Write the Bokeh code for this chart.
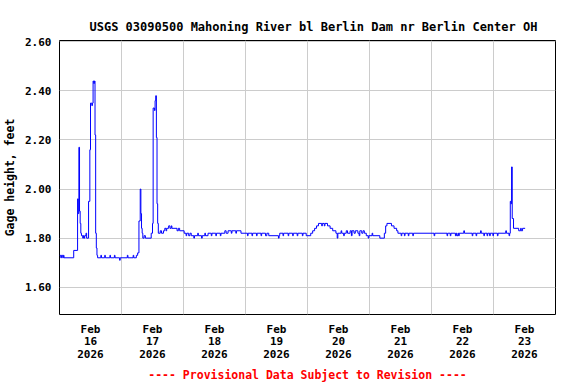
from bokeh.plotting import figure
from bokeh.models import Range1d, FixedTicker, NumeralTickFormatter
from bokeh.embed import file_html
from bokeh.resources import INLINE

# Hours since 2026-02-16 00:00 (local) and gage height (ft), step-after breakpoints
hours = [
    0.00, 0.50, 0.75, 1.25, 1.50, 1.75, 5.50, 7.00, 7.25, 7.50, 7.75, 8.00, 8.25, 8.50,
    9.00, 9.25, 9.50, 9.75, 10.25, 10.50, 11.25, 11.75, 12.00, 12.50, 12.75, 13.00, 13.25,
    13.50, 13.75, 14.00, 14.25, 14.50, 14.75, 16.00, 16.25, 17.50, 17.75, 19.50, 19.75,
    21.25, 21.50, 23.25, 23.50, 26.25, 26.50, 28.50, 28.75, 29.75, 30.25, 30.75, 31.25,
    31.50, 31.75, 32.00, 32.25, 32.75, 33.25, 35.50, 36.00, 36.25, 36.75, 37.00, 37.25,
    37.50, 37.75, 38.00, 38.25, 39.00, 39.50, 40.25, 40.75, 41.25, 41.50, 42.25, 42.75,
    43.25, 43.50, 45.50, 46.00, 46.50, 48.25, 49.00, 49.25, 50.00, 50.50, 51.00, 52.00,
    52.25, 53.50, 53.75, 55.00, 55.25, 56.25, 56.50, 57.50, 58.75, 59.00, 60.50, 60.75,
    62.25, 62.50, 64.00, 64.50, 65.25, 66.50, 66.75, 68.25, 68.50, 70.25, 72.75, 73.00,
    74.50, 74.75, 76.25, 76.50, 78.00, 78.25, 79.75, 80.25, 81.00, 84.75, 85.00, 85.25,
    86.50, 86.75, 88.50, 88.75, 90.25, 90.50, 92.00, 92.25, 94.00, 94.25, 95.50, 97.25,
    98.00, 98.75, 99.50, 100.25, 101.50, 101.75, 102.50, 102.75, 103.75, 104.75, 105.75,
    107.00, 107.50, 107.75, 109.00, 109.25, 110.00, 110.25, 111.00, 111.50, 112.50,
    113.00, 113.25, 114.00, 114.50, 115.50, 116.00, 116.25, 117.00, 117.50, 118.00,
    118.75, 119.50, 119.75, 121.00, 121.25, 124.00, 125.75, 126.25, 126.75, 128.50,
    129.50, 130.50, 131.00, 132.25, 132.50, 133.50, 133.75, 135.00, 135.25, 136.75,
    137.00, 145.00, 145.25, 150.00, 150.25, 151.25, 151.50, 153.25, 153.50, 153.75,
    154.25, 154.50, 154.75, 156.50, 156.75, 159.75, 160.00, 161.25, 161.50, 163.00,
    163.25, 164.25, 164.50, 165.50, 165.75, 166.50, 166.75, 167.75, 168.00, 169.50,
    169.75, 172.75, 173.00, 174.00, 174.25, 174.50, 174.75, 175.00, 175.25, 175.75,
    177.75, 178.50, 178.75, 179.25, 180.25,
]
gage_ft = [
    1.73, 1.72, 1.73, 1.72, 1.73, 1.72, 1.75, 1.96, 1.90, 2.17, 1.91, 1.86, 1.82, 1.81,
    1.80, 1.81, 1.80, 1.81, 1.82, 1.80, 1.95, 2.16, 2.35, 2.34, 2.35, 2.44, 2.43,
    2.44, 2.22, 1.82, 1.76, 1.73, 1.72, 1.73, 1.72, 1.73, 1.72, 1.73, 1.72,
    1.73, 1.72, 1.71, 1.72, 1.73, 1.72, 1.73, 1.72, 1.73, 1.74, 1.87, 2.00,
    1.90, 1.84, 1.82, 1.80, 1.81, 1.80, 1.82, 1.86, 2.33, 2.32, 2.36, 2.38,
    2.21, 1.94, 1.86, 1.82, 1.83, 1.82, 1.83, 1.84, 1.83, 1.84, 1.85, 1.84,
    1.85, 1.84, 1.83, 1.84, 1.83, 1.82, 1.81, 1.82, 1.81, 1.82, 1.81, 1.80,
    1.81, 1.82, 1.81, 1.80, 1.81, 1.82, 1.81, 1.82, 1.81, 1.82, 1.81, 1.82,
    1.81, 1.82, 1.83, 1.82, 1.83, 1.82, 1.83, 1.82, 1.83, 1.82, 1.81, 1.82,
    1.81, 1.82, 1.81, 1.82, 1.81, 1.82, 1.81, 1.82, 1.81, 1.80, 1.81, 1.82,
    1.81, 1.82, 1.81, 1.82, 1.81, 1.82, 1.81, 1.82, 1.81, 1.82, 1.81, 1.82,
    1.83, 1.84, 1.85, 1.86, 1.85, 1.86, 1.85, 1.86, 1.85, 1.84, 1.83,
    1.82, 1.80, 1.82, 1.83, 1.82, 1.81, 1.82, 1.83, 1.82, 1.83,
    1.81, 1.83, 1.82, 1.83, 1.82, 1.81, 1.83, 1.82, 1.83, 1.82,
    1.81, 1.80, 1.81, 1.82, 1.81, 1.80, 1.82, 1.85, 1.86, 1.85,
    1.84, 1.83, 1.82, 1.81, 1.82, 1.81, 1.82, 1.81, 1.82, 1.81,
    1.82, 1.81, 1.82, 1.81, 1.82, 1.81, 1.82, 1.81, 1.82, 1.81,
    1.82, 1.81, 1.82, 1.83, 1.82, 1.81, 1.82, 1.81, 1.82, 1.83,
    1.82, 1.81, 1.82, 1.81, 1.82, 1.81, 1.82, 1.81, 1.82, 1.81,
    1.82, 1.83, 1.82, 1.81, 1.82, 1.95, 1.94, 2.09, 1.88, 1.84,
    1.83, 1.84, 1.83, 1.84, 1.84,
]

day_label_hours = [12, 36, 60, 84, 108, 132, 156, 180]
day_labels = ["Feb\n16\n2026", "Feb\n17\n2026", "Feb\n18\n2026", "Feb\n19\n2026",
              "Feb\n20\n2026", "Feb\n21\n2026", "Feb\n22\n2026", "Feb\n23\n2026"]
midnight_hours = [24, 48, 72, 96, 120, 144, 168]
y_ticks = [1.6, 1.8, 2.0, 2.2, 2.4, 2.6]

title_text = "USGS 03090500 Mahoning River bl Berlin Dam nr Berlin Center OH"
y_label = "Gage height, feet"
footer_text = "---- Provisional Data Subject to Revision ----"

FONT = "DejaVu Sans Mono"

p = figure(width=576, height=384, output_backend="svg", toolbar_location=None,
           x_range=Range1d(0, 192), y_range=Range1d(1.489, 2.605),
           min_border_left=58, min_border_right=21, min_border_top=40,
           min_border_bottom=68, background_fill_color="white",
           border_fill_color="white")

p.title.text = title_text
p.title.align = "left"
p.title.offset = 30
p.title.text_font = FONT
p.title.text_font_style = "bold"
p.title.text_font_size = "12px"
p.title.text_color = "black"
p.title.standoff = 13

p.outline_line_color = "black"
p.outline_line_width = 1
p.outline_line_alpha = 1.0

p.step(hours, gage_ft, mode="after", line_color="#0000ff", line_width=1)

# x axis: day labels at noon, footer note as the axis label
xa = p.xaxis[0]
xa.ticker = FixedTicker(ticks=day_label_hours)
xa.major_label_overrides = {h: lab for h, lab in zip(day_label_hours, day_labels)}
xa.major_label_text_font = FONT
xa.major_label_text_font_style = "bold"
xa.major_label_text_font_size = "11px"
xa.major_label_text_color = "black"
xa.major_label_text_line_height = 0.98
xa.major_label_standoff = 8
xa.major_tick_out = 0
xa.major_tick_in = 0
xa.axis_line_color = None
xa.major_tick_line_color = None
xa.minor_tick_line_color = None
xa.axis_label = footer_text
xa.axis_label_text_font = FONT
xa.axis_label_text_font_style = "bold"
xa.axis_label_text_font_size = "11.5px"
xa.axis_label_text_color = "#ff0000"
xa.axis_label_standoff = 4

ya = p.yaxis[0]
ya.ticker = FixedTicker(ticks=y_ticks)
ya.formatter = NumeralTickFormatter(format="0.00")
ya.major_label_text_font = FONT
ya.major_label_text_font_style = "bold"
ya.major_label_text_font_size = "11px"
ya.major_label_text_color = "black"
ya.major_label_standoff = 8
ya.major_tick_out = 0
ya.major_tick_in = 0
ya.axis_line_color = None
ya.major_tick_line_color = None
ya.minor_tick_line_color = None
ya.axis_label = y_label
ya.axis_label_text_font = FONT
ya.axis_label_text_font_style = "bold"
ya.axis_label_text_font_size = "11.5px"
ya.axis_label_text_color = "black"
ya.axis_label_standoff = 5

p.xgrid[0].ticker = FixedTicker(ticks=midnight_hours)
p.ygrid[0].ticker = FixedTicker(ticks=y_ticks)
p.xgrid.grid_line_color = "#cccccc"
p.ygrid.grid_line_color = "#cccccc"

open("out.html", "w").write(file_html(p, INLINE))
